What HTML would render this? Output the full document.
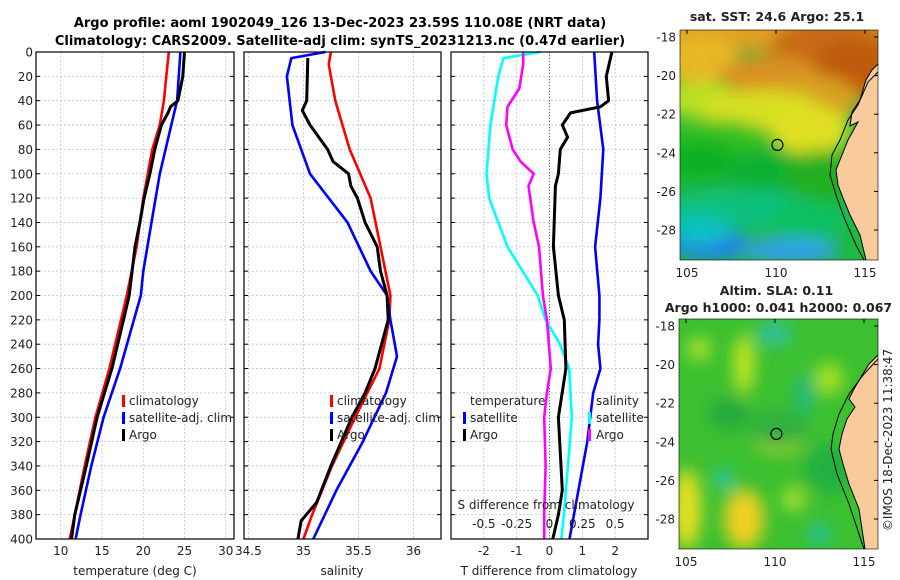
<!DOCTYPE html>
<html><head><meta charset="utf-8"><style>
html,body{margin:0;padding:0;background:#fff;}
svg{display:block;font-family:"DejaVu Sans","Liberation Sans",sans-serif;}
</style></head><body>
<svg id="fig" width="900" height="580" viewBox="0 0 900 580" xmlns="http://www.w3.org/2000/svg">
<defs>
<filter id="blur1" x="-20%" y="-20%" width="140%" height="140%"><feGaussianBlur stdDeviation="8"/></filter>
<clipPath id="m1clip"><rect x="680" y="30" width="198" height="230"/></clipPath>
<clipPath id="m2clip"><rect x="679" y="319" width="199" height="230"/></clipPath>
</defs>
<text x="340" y="27" text-anchor="middle" font-size="13" font-weight="bold">Argo profile: aoml 1902049_126 13-Dec-2023 23.59S 110.08E (NRT data)</text>
<text x="340" y="45" text-anchor="middle" font-size="13" font-weight="bold">Climatology: CARS2009. Satellite-adj clim: synTS_20231213.nc (0.47d earlier)</text>
<g id="panels"></g>
<g id="maps"></g>
</svg>
<script>
// ---- data: depths and profiles ----
const tDepth = [0,20,40,60,80,120,160,200,260,300,340,380,400];
const tClim = [23.1,22.8,22.5,22.0,21.1,20.0,19.2,18.0,15.9,14.2,12.9,11.7,11.1];
const tArgoDepth = [0,20,30,40,45,50,60,80,100,120,140,160,200,220,260,300,340,380,400];
const tArgo = [25.0,24.8,24.5,24.2,23.3,23.0,22.2,21.4,20.8,20.1,19.6,19.0,18.3,17.6,16.2,14.4,13.1,11.7,11.3];
const tSatDepth = [0,40,60,100,140,180,200,260,300,340,380,400];
const tSat = [24.5,24.1,23.4,22.0,21.0,20.0,19.7,17.2,15.2,13.7,12.4,11.8];

const sClimDepth = [0,10,40,80,120,160,200,220,260,300,340,380,400];
const sClim = [35.25,35.23,35.29,35.42,35.61,35.70,35.79,35.78,35.69,35.47,35.26,35.08,35.0];
const sArgoDepth = [5,40,48,60,80,90,100,110,120,140,160,180,200,220,260,280,300,340,370,385,400];
const sArgo = [35.04,35.03,34.99,35.06,35.22,35.27,35.41,35.43,35.49,35.56,35.67,35.70,35.76,35.77,35.65,35.56,35.44,35.25,35.12,34.98,34.95];
const sSatDepth = [0,5,20,60,100,140,180,200,220,250,280,320,360,400];
const sSat = [35.2,34.89,34.85,34.9,35.06,35.4,35.61,35.76,35.79,35.85,35.75,35.54,35.3,35.09];

const dDepthA = [0,20,40,45,50,60,70,80,100,110,160,200,220,260,300,340,360,380,400];
const dTArgo = [1.9,1.73,1.8,1.55,0.64,0.39,0.55,0.33,0.27,0.18,0.12,0.27,0.45,0.5,0.27,0.35,0.39,0.27,0.1];
const dDepthB = [0,40,80,120,160,200,220,240,260,280,320,360,400];
const dTSat = [1.36,1.45,1.64,1.55,1.39,1.52,1.52,1.48,1.55,1.33,1.15,0.88,0.61];
const dDepthC = [0,5,20,60,100,120,160,200,220,240,260,300,340,380,400];
const dSSat = [-0.07,-0.35,-0.39,-0.45,-0.48,-0.46,-0.32,-0.09,-0.03,0.08,0.15,0.17,0.14,0.11,0.09];
const dDepthD = [0,10,30,45,60,80,90,100,110,140,160,200,220,260,280,300,340,380,400];
const dSArgo = [-0.2,-0.2,-0.23,-0.32,-0.33,-0.28,-0.22,-0.12,-0.16,-0.12,-0.08,-0.05,-0.02,0.01,-0.02,-0.04,-0.03,-0.04,-0.04];

const depthTicks = [0,20,40,60,80,100,120,140,160,180,200,220,240,260,280,300,320,340,360,380,400];
const tTicks = [10,15,20,25,30];
const sTicks = [34.5,35,35.5,36];
const dTTicks = [-2,-1,0,1,2];
const dSTicks = [-0.5,-0.25,0,0.25,0.5];
const dSTickLabels = ["-0.5","-0.25","0","0.25","0.5"];

const NS = "http://www.w3.org/2000/svg";
function mk(tag, attrs, parent){const e=document.createElementNS(NS,tag);for(const k in attrs)e.setAttribute(k,attrs[k]);parent.appendChild(e);return e;}
const panels = document.getElementById('panels');
const Y0=52, Y1=539;
const yScale = d => Y0 + (d/400)*(Y1-Y0);

function makePanel(name, x0, x1, xmin, xmax){
  const g = mk('g',{},panels);
  
  
  return {g, xs: v => x0 + (v-xmin)/(xmax-xmin)*(x1-x0), x0, x1};
}
function frame(p, ticks, labels, showDepthLabels){
  const g=p.g;
  ticks.forEach(t=>{const x=p.xs(t);mk('line',{x1:x,y1:Y0,x2:x,y2:Y1,stroke:'#b8c4e8','stroke-width':0.8,'stroke-dasharray':'2,2'},g);});
  depthTicks.forEach(d=>{const y=yScale(d);mk('line',{x1:p.x0,y1:y,x2:p.x1,y2:y,stroke:'#b8c4e8','stroke-width':0.8,'stroke-dasharray':'2,2'},g);
    mk('line',{x1:p.x0,y1:y,x2:p.x0+4,y2:y,stroke:'#000','stroke-width':1},g);
    mk('line',{x1:p.x1,y1:y,x2:p.x1-4,y2:y,stroke:'#000','stroke-width':1},g);
    if(showDepthLabels){const t=mk('text',{x:p.x0-3,y:y+4.5,'text-anchor':'end','font-size':12,fill:'#222'},g);t.textContent=d;}
  });
  if(labels){ticks.forEach((t,i)=>{const tx=mk('text',{x:p.xs(t),y:555,'text-anchor':'middle','font-size':12,fill:'#222'},g);tx.textContent=labels[i];});}
}
function border(p){mk('rect',{x:p.x0,y:Y0,width:p.x1-p.x0,height:Y1-Y0,fill:'none',stroke:'#000','stroke-width':1.2},p.g);}
function line(p, vals, depths, color, name, w){
  const pts = vals.map((v,i)=>p.xs(v).toFixed(1)+','+yScale(depths[i]).toFixed(1)).join(' ');
  const el = mk('polyline',{points:pts,fill:'none',stroke:color,'stroke-width':w||2.6,'stroke-linejoin':'round'},p.g);
  
  
}
function txt(g,x,y,s,size,anchor,name){const t=mk('text',{x:x,y:y,'font-size':size||12,'text-anchor':anchor||'start',fill:'#222'},g);t.textContent=s;return t;}
function legendMark(g,x,yc,color){mk('rect',{x:x,y:yc-6,width:3,height:12,fill:color},g);}

const legY=[400,417,434];

// Panel 1 temperature
const p1 = makePanel('temperature-panel',36,234,7,31);
frame(p1,tTicks,tTicks.map(String),true);
line(p1,tClim,tDepth,'#f00','temperature-climatology-line');
line(p1,tSat,tSatDepth,'#00f','temperature-satellite-line');
line(p1,tArgo,tArgoDepth,'#000','temperature-argo-line',3);
border(p1);
txt(p1.g,135,575,'temperature (deg C)',12,'middle','x-axis-title-temperature');
[['climatology','#f00'],['satellite-adj. clim','#00f'],['Argo','#000']].forEach((l,i)=>{legendMark(p1.g,122,legY[i]+1,l[1]);txt(p1.g,129,legY[i]+5,l[0],12,'start','legend-entry');});

// Panel 2 salinity
const p2 = makePanel('salinity-panel',244,441,34.46,36.25);
frame(p2,sTicks,["34.5","35","35.5","36"],false);
line(p2,sClim,sClimDepth,'#f00','salinity-climatology-line');
line(p2,sSat,sSatDepth,'#00f','salinity-satellite-line');
line(p2,sArgo,sArgoDepth,'#000','salinity-argo-line',3);
border(p2);
txt(p2.g,342,575,'salinity',12,'middle','x-axis-title-salinity');
[['climatology','#f00'],['satellite-adj. clim','#00f'],['Argo','#000']].forEach((l,i)=>{legendMark(p2.g,330,legY[i]+1,l[1]);txt(p2.g,337,legY[i]+5,l[0],12,'start','legend-entry');});

// Panel 3 differences
const p3 = makePanel('difference-panel',451,648,-3,3);
frame(p3,dTTicks,dTTicks.map(String),false);
const sx = v => v*4; // S difference plotted on T axis (0.5 <-> 2)
mk('line',{x1:p3.xs(0),y1:Y0,x2:p3.xs(0),y2:Y1,stroke:'#666','stroke-width':1,'stroke-dasharray':'1,2'},p3.g);
line(p3,dTSat,dDepthB,'#00f','t-diff-satellite-line');
line(p3,dSSat.map(sx),dDepthC,'#0ff','s-diff-satellite-line');
line(p3,dSArgo.map(sx),dDepthD,'#f0f','s-diff-argo-line');
line(p3,dTArgo,dDepthA,'#000','t-diff-argo-line',3);
border(p3);
txt(p3.g,549,575,'T difference from climatology',12,'middle','x-axis-title-t-difference');
txt(p3.g,546,509,'S difference from climatology',12,'middle','s-difference-title');
dSTicks.forEach((t,i)=>txt(p3.g,p3.xs(sx(t)),528,dSTickLabels[i],12,'middle','s-tick-label'));
txt(p3.g,470,legY[0]+5,'temperature',12,'start','legend-header-temperature');
legendMark(p3.g,463,legY[1]+1,'#00f');txt(p3.g,470,legY[1]+5,'satellite',12,'start','legend-entry');
legendMark(p3.g,463,legY[2]+1,'#000');txt(p3.g,470,legY[2]+5,'Argo',12,'start','legend-entry');
txt(p3.g,596,legY[0]+5,'salinity',12,'start','legend-header-salinity');
legendMark(p3.g,588,legY[1]+1,'#0ff');txt(p3.g,596,legY[1]+5,'satellite',12,'start','legend-entry');
legendMark(p3.g,588,legY[2]+1,'#f0f');txt(p3.g,596,legY[2]+5,'Argo',12,'start','legend-entry');

// ---- maps ----
const maps = document.getElementById('maps');
const lonTicks=[105,110,115];
const latTicks=[-18,-20,-22,-24,-26,-28];
function drawMap(name, x0,y0,w,h, clip, blobs, base, landPts, coastPts, title1, title2, dotFill){
  const g=mk('g',{},maps);
  
  
  const lx = lon => x0 + 7 + (lon-105)*17.8;
  const ly = lat => y0 + 7 + (-18-lat)*19.3;
  const cg=mk('g',{'clip-path':'url(#'+clip+')'},g);
  mk('rect',{x:x0,y:y0,width:w,height:h,fill:base},cg);
  const bg=mk('g',{filter:'url(#blur1)'},cg);
  blobs.forEach(b=>mk('ellipse',{cx:x0+b[0],cy:y0+b[1],rx:b[2],ry:b[3],fill:b[4]},bg));
  const land=mk('polygon',{points:landPts.map(p=>(x0+p[0])+','+(y0+p[1])).join(' '),fill:'#f9cb9c'},cg);
  
  
  mk('polyline',{points:landPts.slice(0,-2).map(p=>(x0+p[0])+','+(y0+p[1])).join(' '),fill:'none',stroke:'#000','stroke-width':1},cg);
  mk('polyline',{points:coastPts.map(p=>(x0+p[0])+','+(y0+p[1])).join(' '),fill:'none',stroke:'#000','stroke-width':1},cg);
  const dot=mk('circle',{cx:lx(110.08),cy:ly(-23.59),r:5.5,fill:dotFill,stroke:'#000','stroke-width':1.2},g);
  
  
  mk('rect',{x:x0,y:y0,width:w,height:h,fill:'none',stroke:'#000','stroke-width':0.6},g);
  lonTicks.forEach(l=>{txt(g,lx(l),y0+h+17,String(l),12,'middle','lon-tick-label');mk('line',{x1:lx(l),y1:y0,x2:lx(l),y2:y0+4,stroke:'#000'},g);});
  latTicks.forEach(l=>{txt(g,x0-4,ly(l)+4.5,String(l),12,'end','lat-tick-label');mk('line',{x1:x0+w,y1:ly(l),x2:x0+w-4,y2:ly(l),stroke:'#000'},g);});
  txt(g,x0+w/2-2,y0-(title2?24:9),title1,12.5,'middle','map-title').setAttribute('font-weight','bold');
  if(title2) txt(g,x0+w/2,y0-7,title2,12.5,'middle','map-subtitle').setAttribute('font-weight','bold');
}
const land1=[[198,34],[192,40],[186,50],[180,70],[172,82],[170,96],[178,92],[168,110],[162,125],[156,140],[158,155],[163,168],[170,185],[180,205],[186,230],[198,230],[198,34]];
const coast1=[[198,42],[188,52],[178,75],[168,90],[160,110],[152,125],[150,145],[156,165],[165,190],[176,215],[184,230]];
drawMap('sst-map',680,30,198,230,'m1clip',[
 [100,0,120,22,'#e0a020'],[150,20,60,35,'#c86a15'],[170,40,40,30,'#c05a10'],[20,30,40,25,'#e8b828'],
 [90,45,50,20,'#d89020'],[130,70,50,25,'#d8a020'],[20,70,40,18,'#b8e020'],[80,80,60,20,'#d8e020'],[130,100,40,25,'#e0e020'],
 [40,110,50,20,'#30c020'],[20,130,40,20,'#10b020'],[90,140,50,20,'#10b030'],[140,150,35,30,'#20b020'],
 [60,180,80,20,'#10c080'],[130,190,40,20,'#10c060'],[30,215,40,15,'#2080f0'],[110,220,50,12,'#30a0f0'],[20,200,30,15,'#10c0c0']
],'#20b840',land1,coast1,'sat. SST: 24.6 Argo: 25.1',null,'none');
const land2=[[199,36],[190,45],[182,58],[175,70],[170,80],[176,88],[168,100],[163,115],[160,130],[164,145],[170,165],[180,190],[186,230],[199,230],[199,36]];
const coast2=[[199,40],[185,55],[170,75],[160,95],[154,115],[152,130],[158,155],[170,185],[180,215],[185,230]];
drawMap('sla-map',679,319,199,230,'m2clip',[
 [65,45,10,30,'#c8e820'],[20,30,12,12,'#a8e030'],[150,60,14,16,'#a8e020'],[100,122,24,12,'#d8e820'],[8,190,14,40,'#e8e020'],[65,200,20,30,'#f0d020'],
 [95,15,18,12,'#30c0a0'],[50,95,20,15,'#20a840'],[125,75,10,20,'#20b880'],[45,160,9,10,'#20c8b0'],[100,110,30,20,'#30b040'],[150,150,25,25,'#20b040'],[115,180,12,12,'#a8e030'],[140,215,12,10,'#20c0a0']
],'#3cc030',land2,coast2,'Altim. SLA: 0.11','Argo h1000: 0.041 h2000: 0.067','none');
const stamp=txt(maps,892,440,'©IMOS 18-Dec-2023 11:38:47',12,'middle','timestamp');
stamp.setAttribute('transform','rotate(-90 892 440)');
</script>
</body></html>
